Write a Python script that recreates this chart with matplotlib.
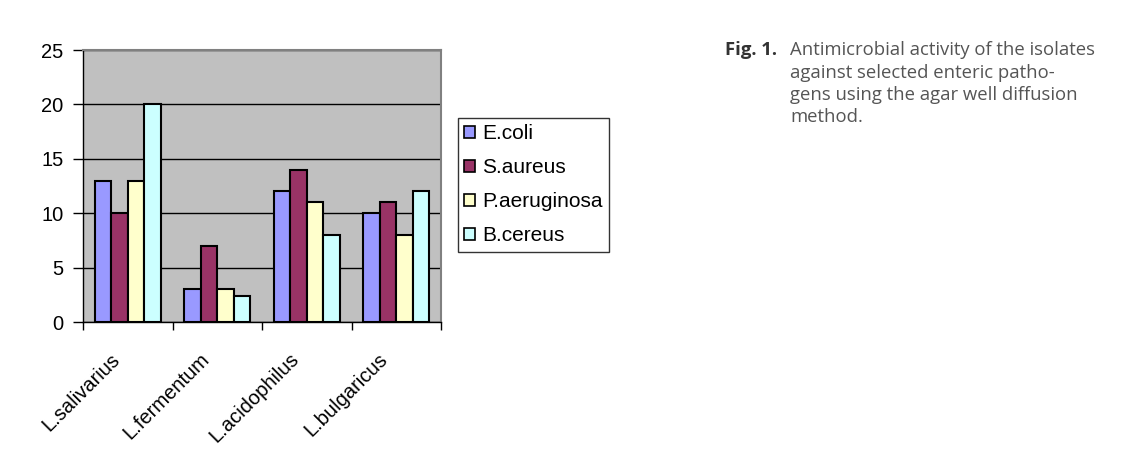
import matplotlib.pyplot as plt
import matplotlib.transforms as mtransforms
import numpy as np

strains = ['L.salivarius', 'L.fermentum', 'L.acidophilus', 'L.bulgaricus']
pathogens = ['E.coli', 'S.aureus', 'P.aeruginosa', 'B.cereus']
e_coli = [13, 3, 12, 10]
s_aureus = [10, 7, 14, 11]
p_aeruginosa = [13, 3, 11, 8]
b_cereus = [20, 2.4, 8, 12]
series = [e_coli, s_aureus, p_aeruginosa, b_cereus]
colors = ['#9999FF', '#993366', '#FFFFCC', '#CCFFFF']

plt.rcParams['font.family'] = ['Liberation Sans', 'DejaVu Sans']

fig = plt.figure(figsize=(11.26, 4.62), dpi=100)
ax = fig.add_axes([83 / 1126, 1 - 322 / 462, (441 - 83) / 1126, (322 - 50) / 462])

x = np.arange(len(strains))
w = 0.184
for i, (vals, c) in enumerate(zip(series, colors)):
    ax.bar(x + (i - 1.5) * w, vals, width=w, color=c, edgecolor='black',
           linewidth=1.5, label=pathogens[i], zorder=3)

ax.set_facecolor('#C0C0C0')
ax.set_xlim(-0.5, 3.5)
ax.set_ylim(0, 25)
ax.set_yticks(range(0, 26, 5))
ax.yaxis.grid(True, color='black', linewidth=1, zorder=1)
ax.tick_params(axis='y', labelsize=14.5, length=7, width=1, pad=7)

ax.set_xticks(np.arange(-0.5, 4, 1))
ax.set_xticklabels([])
ax.set_xticks(x, minor=True)
ax.set_xticklabels(strains, minor=True, rotation=45, ha='right',
                   rotation_mode='anchor', fontsize=14.5)
ax.tick_params(axis='x', which='major', length=6, width=1)
ax.tick_params(axis='x', which='minor', length=0, pad=20)
shift = mtransforms.ScaledTranslation(-18 / 100, 0, fig.dpi_scale_trans)
for lab in ax.get_xticklabels(minor=True):
    lab.set_transform(lab.get_transform() + shift)

for s in ['top', 'right']:
    ax.spines[s].set_color('#808080')
    ax.spines[s].set_linewidth(1.5)
for s in ['left', 'bottom']:
    ax.spines[s].set_color('black')
    ax.spines[s].set_linewidth(1)

leg = ax.legend(loc='upper left', bbox_to_anchor=(458 / 1126, 1 - 118 / 462),
                bbox_transform=fig.transFigure, fontsize=15, frameon=True,
                fancybox=False, edgecolor='black', handlelength=0.5,
                handleheight=0.5, handletextpad=0.35, labelspacing=0.72,
                borderpad=0.3, borderaxespad=0)
leg.get_frame().set_linewidth(1)
for h in leg.legend_handles:
    h.set_linewidth(1.2)

fig.text(725 / 1126, 1 - 50 / 462, 'Fig. 1.', fontsize=13.3, fontweight='bold',
         color='#333333', va='center', family=['Open Sans', 'DejaVu Sans'])
caption = ['Antimicrobial activity of the isolates',
           'against selected enteric patho-',
           'gens using the agar well diffusion',
           'method.']
for k, line in enumerate(caption):
    fig.text(790 / 1126, 1 - (50 + 22.5 * k) / 462, line, fontsize=13.3,
             color='#555555', va='center', family=['Open Sans', 'DejaVu Sans'])

plt.savefig('out.png', dpi=100, facecolor='white')
